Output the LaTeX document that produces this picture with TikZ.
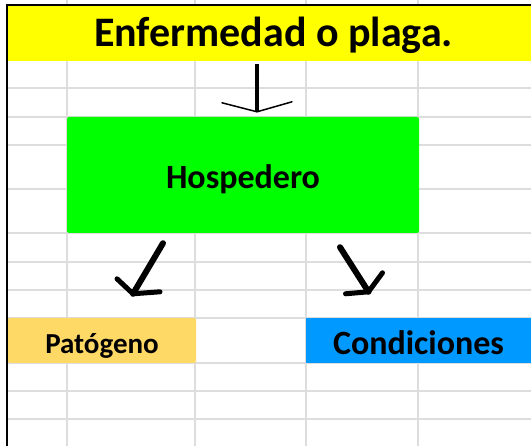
\documentclass[tikz,border=0pt]{standalone}
\usepackage{fontspec}
\setmainfont{Carlito}
\usetikzlibrary{positioning, calc}
\definecolor{hojaamarillo}{HTML}{FFFF00}
\definecolor{hojaverde}{HTML}{00FF00}
\definecolor{hojanaranja}{HTML}{FFD966}
\definecolor{hojaazul}{HTML}{0099FF}
\definecolor{hojarejilla}{HTML}{DDDDDD}
% lower a cell text without changing its box
\newcommand{\bajar}[2]{\raisebox{-#1}[\height][\depth]{#2}}

\begin{document}
\begin{tikzpicture}[
  x=1pt, y=-1pt,
  celda/.style={
    rectangle,
    inner sep=0pt,
    font=\bfseries
  },
  rejilla/.style={
    draw=hojarejilla,
    line width=1.3pt
  },
  trazo/.style={
    draw=black,
    line cap=round,
    line join=round
  }
]
  \useasboundingbox (0,0) rectangle (531,446);
  \fill[white] (0,0) rectangle (531,446);

  % cell grid of the sheet
  \foreach \gx in {67,195,306,418}
    \draw[rejilla] (\gx,0) -- (\gx,446);
  \foreach \gy in {88,117,145,189,233,262,290,318,363,391,419}
    \draw[rejilla] (8,\gy) -- (531,\gy);

  % sheet border
  \draw[line width=2pt] (7,446) -- (7,5) -- (531,5);

  % cells
  \node[celda, fill=hojaamarillo, minimum width=523, minimum height=55,
        font=\fontsize{42}{46}\selectfont\bfseries] (titulo) at (269.5,33.5) {\hspace*{8pt}\bajar{2pt}{Enfermedad o plaga.}};
  \node[celda, fill=hojaverde, rounded corners=2pt, minimum width=352, minimum height=116,
        font=\fontsize{34}{38}\selectfont\bfseries] (hosp) at (243,175) {\bajar{4pt}{Hospedero}};
  \node[celda, fill=hojanaranja, rounded corners=2pt, minimum width=188, minimum height=45,
        font=\fontsize{29}{33}\selectfont\bfseries] (pato) at (102,340.5) {\bajar{5pt}{Patógeno}};
  \node[celda, fill=hojaazul, minimum width=225, minimum height=45,
        font=\fontsize{34}{38}\selectfont\bfseries] (cond) at (418.5,340.5) {\bajar{2pt}{Condiciones}};

  % hand drawn arrows
  \coordinate (a1) at ($(titulo.south)+(-12.5,3)$);
  \coordinate (a1p) at ($(hosp.north)+(14,-5)$);
  \draw[trazo, line width=4pt, line cap=butt] (a1) -- (a1p);
  \draw[trazo, line width=1.5pt] ($(a1p)+(-35,-9)$) -- (a1p) -- ($(a1p)+(35,-10)$);

  \coordinate (a2) at ($(hosp.south)+(-80,10)$);
  \coordinate (a2p) at ($(pato.north)+(31,-24)$);
  \draw[trazo, line width=6pt] (a2) -- (a2p);
  \draw[trazo, line width=5pt] ($(a2p)+(-16,-15)$) -- (a2p) -- ($(a2p)+(27,-2)$);

  \coordinate (a3) at ($(hosp.south)+(97,14)$);
  \coordinate (a3p) at ($(cond.north)+(-50,-26)$);
  \draw[trazo, line width=6pt] (a3) -- (a3p);
  \draw[trazo, line width=5pt] ($(a3p)+(14,-19)$) -- (a3p) -- ($(a3p)+(-23,2)$);
\end{tikzpicture}
\end{document}
